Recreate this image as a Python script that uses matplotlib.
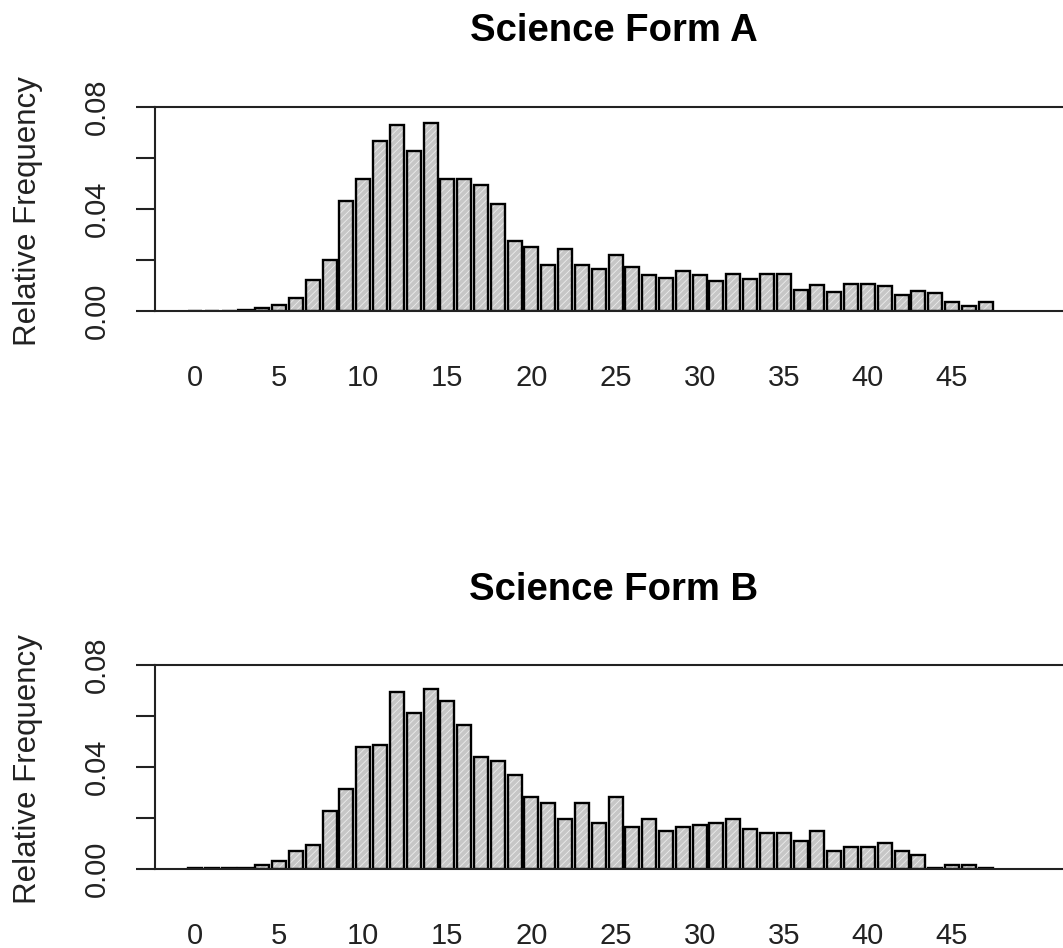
import numpy as np
import matplotlib.pyplot as plt

plt.rcParams['font.family'] = ['Liberation Sans', 'DejaVu Sans']
plt.rcParams['hatch.linewidth'] = 0.6

scores = np.arange(0, 48)

# relative frequency of each raw score, form A
form_a = [0, 0, 0, 0.0005, 0.0013, 0.0022, 0.0052, 0.0123, 0.0201, 0.0431,
          0.0516, 0.0665, 0.0729, 0.0626, 0.0737, 0.0516, 0.0516, 0.0493, 0.0421, 0.0273,
          0.0251, 0.0179, 0.0242, 0.0179, 0.0163, 0.0218, 0.0173, 0.0140, 0.0131, 0.0156,
          0.0140, 0.0116, 0.0146, 0.0124, 0.0146, 0.0146, 0.0084, 0.0101, 0.0075, 0.0107,
          0.0107, 0.0099, 0.0061, 0.0077, 0.0069, 0.0037, 0.0018, 0.0037]

# form B
form_b = [0.0005, 0.0004, 0.0004, 0.0004, 0.0016, 0.0030, 0.0069, 0.0093, 0.0229, 0.0313,
          0.0477, 0.0487, 0.0696, 0.0611, 0.0706, 0.0657, 0.0566, 0.0438, 0.0425, 0.0367,
          0.0282, 0.0259, 0.0196, 0.0259, 0.0180, 0.0282, 0.0165, 0.0196, 0.0148, 0.0165,
          0.0173, 0.0179, 0.0196, 0.0158, 0.0141, 0.0141, 0.0108, 0.0148, 0.0069, 0.0085,
          0.0085, 0.0102, 0.0069, 0.0054, 0.0005, 0.0014, 0.0014, 0.0005]

titles = ['Science Form A', 'Science Form B']
xtick_vals = np.arange(0, 50, 5)
ytick_vals = [0.00, 0.02, 0.04, 0.06, 0.08]
ytick_labels = ['0.00', '', '0.04', '', '0.08']

W, H = 1063, 948
fig = plt.figure(figsize=(W / 100, H / 100), dpi=100)

panels = [(form_a, 311, 107, 31), (form_b, 869, 665, 590)]

for (vals, y0, y1, ty), title in zip(panels, titles):
    ax = fig.add_axes([155 / W, (H - y0) / H, 1 - 155 / W, (y0 - y1) / H])
    # hatched grey fill, then the black outline on top
    ax.bar(scores, vals, width=0.833, color='#c6c6c6', edgecolor='#ececec',
           hatch='/////', linewidth=0)
    ax.bar(scores, vals, width=0.833, fill=False, edgecolor='black', linewidth=1.7)
    ax.set_xlim(-2.38, 51.6)
    ax.set_ylim(0, 0.08)
    ax.spines['right'].set_visible(False)
    for s in ['top', 'bottom', 'left']:
        ax.spines[s].set_linewidth(1.5)
        ax.spines[s].set_color('#222222')
    ax.set_xticks(xtick_vals)
    ax.set_xticklabels([str(v) for v in xtick_vals])
    ax.tick_params(axis='x', length=0, pad=38, labelsize=21, labelcolor='#222222')
    ax.set_yticks(ytick_vals)
    ax.set_yticklabels(ytick_labels, rotation=90, va='center', ha='center')
    ax.tick_params(axis='y', length=14, width=1.5, pad=28, labelsize=21,
                   labelcolor='#222222', color='#222222')
    ax.set_ylabel('Relative Frequency', fontsize=22.5, color='#222222')
    ax.yaxis.set_label_coords(-0.123, 0.49)
    fig.text(614 / W, 1 - ty / H, title, ha='center', va='center',
             fontsize=27.5, fontweight='bold')

fig.savefig('out.png', dpi=100)
